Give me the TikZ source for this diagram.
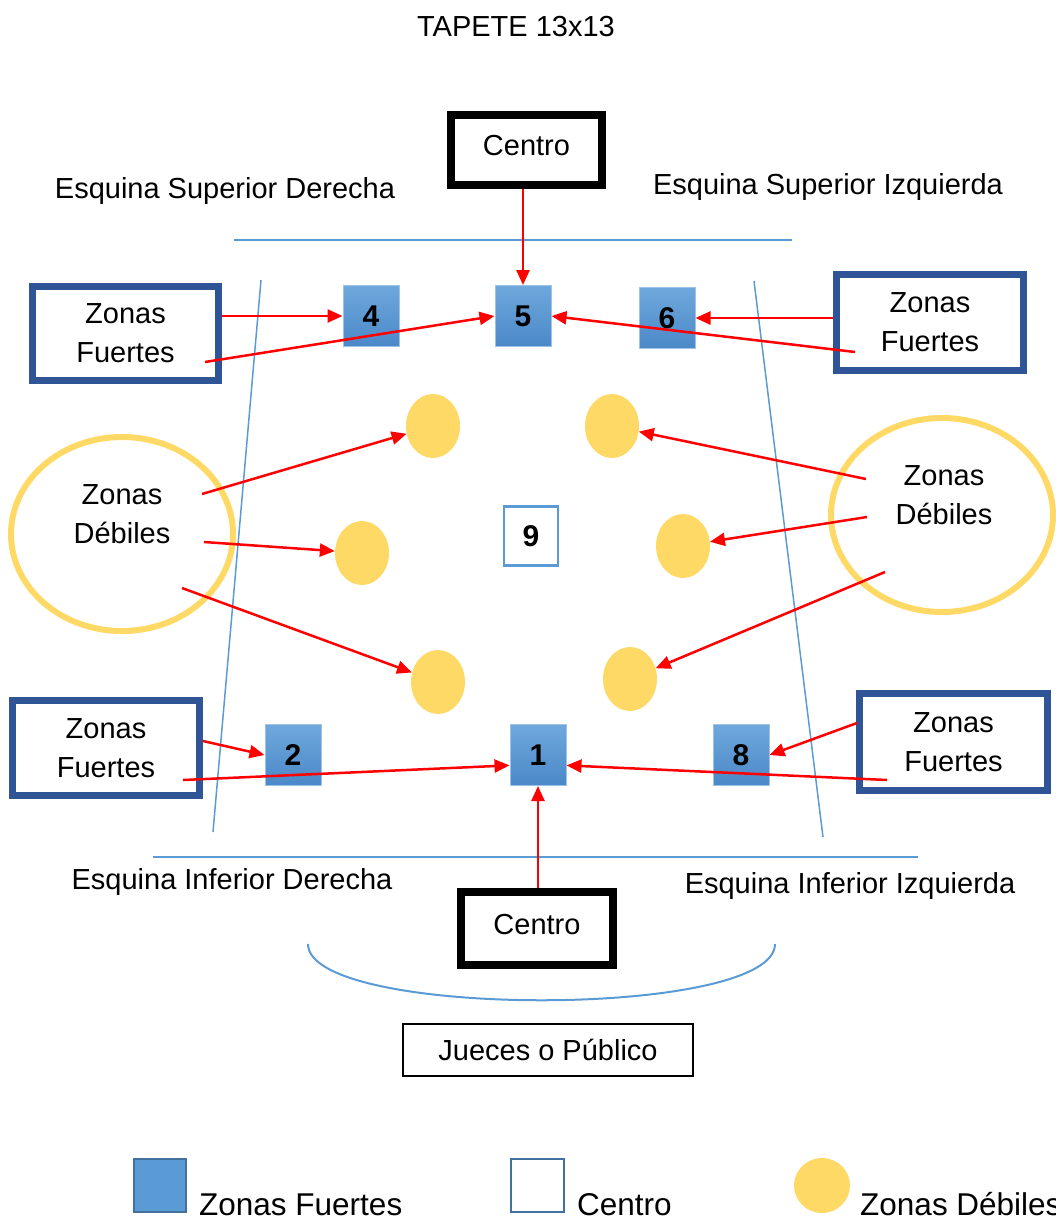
\documentclass[tikz,border=0pt]{standalone}
\usepackage{fontspec}
\setmainfont{Liberation Sans}
\usetikzlibrary{shapes.geometric,arrows.meta,calc}
\definecolor{lineblue}{HTML}{5B9BD5}
\definecolor{zfblue}{HTML}{2F5597}
\definecolor{yell}{HTML}{FFD966}
\definecolor{sqtop}{HTML}{6FA8DC}
\definecolor{sqbot}{HTML}{4A88C8}
\definecolor{sqedge}{HTML}{9DC3E6}
\definecolor{legedge}{HTML}{41719C}
\begin{document}
\begin{tikzpicture}[x=1pt,y=-1pt,
  every node/.style={inner sep=0pt, font=\fontsize{29}{39}\selectfont},
  txt/.style={align=center},
  centrobox/.style={draw=black, line width=8pt, fill=white, minimum width=151pt, minimum height=70pt, text depth=9pt},
  zfbox/.style={draw=zfblue, line width=7pt, fill=white, minimum width=187pt, minimum height=95pt, align=center},
  weakell/.style={ellipse, draw=yell, line width=6pt, minimum width=222pt, minimum height=194pt},
  strongsq/.style={draw=sqedge, line width=1pt, top color=sqtop, bottom color=sqbot, minimum width=56pt, minimum height=61pt, font=\fontsize{30}{32}\selectfont\bfseries},
  centersq/.style={draw=lineblue, line width=2.5pt, fill=white, minimum width=54pt, minimum height=59pt, font=\fontsize{30}{32}\selectfont\bfseries},
  weakdot/.style={ellipse, fill=yell, minimum width=54pt, minimum height=64pt},
  court/.style={draw=lineblue, line width=2pt},
  side/.style={draw=lineblue, line width=1.5pt},
  redarrow/.style={draw=red, line width=2.5pt, -{Triangle[length=15pt,width=13pt]}},
  legtext/.style={anchor=base west, font=\fontsize{31.5}{36}\selectfont},
]
\useasboundingbox (0,0) rectangle (1055,1220);

% court lines
\draw[court] (234,240) -- (792,240);
\draw[court] (153,857) -- (918,857);
\draw[side] (261,280) -- (213,832);
\draw[side] (754,281) -- (823,837);
\coordinate (arcL) at (308,944);
\coordinate (arcR) at (775,944);
\draw[court] (arcL) .. controls (308,1019) and (775,1019) .. (arcR);

% texts
\node (title) at (516,26.5) {TAPETE 13x13};
\node (esd) at (225,191.5) {Esquina Superior Derecha};
\node (esi) at (828,187.5) {Esquina Superior Izquierda};
\node (eid) at (232,881.5) {Esquina Inferior Derecha};
\node (eii) at (850,885.5) {Esquina Inferior Izquierda};

% boxes
\node[centrobox] (cT) at (526.5,150) {Centro};
\node[centrobox, minimum width=152pt, minimum height=73pt] (cB) at (537,928.5) {Centro};
\node[draw=black, line width=1.5pt, fill=white, minimum width=290pt, minimum height=52pt] (jueces) at (548,1050) {Jueces o Público};

\node[zfbox, minimum width=186pt, minimum height=94pt] (zfTL) at (125.5,333.5) {Zonas\\Fuertes};
\node[zfbox, minimum height=96pt] (zfTR) at (930,322.5) {Zonas\\Fuertes};
\node[zfbox] (zfBL) at (106,748) {Zonas\\Fuertes};
\node[zfbox, minimum width=188pt, minimum height=97pt] (zfBR) at (953.5,742) {Zonas\\Fuertes};

\node[weakell] (dL) at (122,534) {};
\node[txt] (dLt) at (122,514) {Zonas\\Débiles};
\node[weakell] (dR) at (942,515) {};
\node[txt] (dRt) at (944,495.5) {Zonas\\Débiles};

% squares
\node[strongsq] (sq4) at (371,316) {4};
\node[strongsq] (sq5) at (523,316) {5};
\node[strongsq] (sq6) at (667,318) {6};
\node[strongsq] (sq2) at (293,755) {2};
\node[strongsq] (sq1) at (538,755) {1};
\node[strongsq] (sq8) at (741,755) {8};
\node[centersq] (sq9) at (531,536) {9};

% weak dots
\node[weakdot] (w1) at (433,426) {};
\node[weakdot] (w2) at (612,426) {};
\node[weakdot] (w3) at (362,553) {};
\node[weakdot] (w4) at (683,546) {};
\node[weakdot] (w5) at (438,682) {};
\node[weakdot] (w6) at (630,679) {};

% arrow start points
\coordinate (sTL) at (205,362);
\coordinate (sTR) at (855,352);
\coordinate (sBL1) at (203,741);
\coordinate (sBL2) at (183,780);
\coordinate (sBR1) at (857,723);
\coordinate (sBR2) at (887,780);
\coordinate (dL1) at (202,494);
\coordinate (dL2) at (204,542);
\coordinate (dL3) at (182,588);
\coordinate (dR1) at (866,479);
\coordinate (dR2) at (867,517);
\coordinate (dR3) at (885,572);

% arrows
\draw[redarrow] (sq5 |- cT.south) -- (sq5.north);
\draw[redarrow] (zfTL.east |- sq4.west) -- (sq4.west);
\draw[redarrow] (sTL) -- (sq5.west);
\draw[redarrow] (zfTR.west |- sq6.east) -- (sq6.east);
\draw[redarrow] (sTR) -- (sq5.east);

\draw[redarrow] (dL1) -- (w1);
\draw[redarrow] (dL2) -- (w3);
\draw[redarrow] (dL3) -- (w5);
\draw[redarrow] (dR1) -- (w2);
\draw[redarrow] (dR2) -- (w4);
\draw[redarrow] (dR3) -- (w6);

\draw[redarrow] (sBL1) -- (sq2.west);
\draw[redarrow] (sBL2) -- (sq1.200);
\draw[redarrow] (sBR1) -- (sq8.east);
\draw[redarrow] (sBR2) -- (sq1.340);
\draw[redarrow] (sq1 |- cB.north) -- (sq1.south);

% legend
\node[draw=legedge, line width=2pt, fill=lineblue, minimum width=52pt, minimum height=53pt] (legsq) at (160,1185.5) {};
\node[legtext] (legsqt) at (199,1215) {Zonas Fuertes};
\node[draw=legedge, line width=2pt, fill=white, minimum width=53pt, minimum height=53pt] (legc) at (537.5,1185.5) {};
\node[legtext] (legct) at (577,1215) {Centro};
\node[ellipse, fill=yell, minimum width=56pt, minimum height=55pt] (legw) at (822,1185.5) {};
\node[legtext] (legwt) at (860,1215) {Zonas Débiles};
\end{tikzpicture}
\end{document}
